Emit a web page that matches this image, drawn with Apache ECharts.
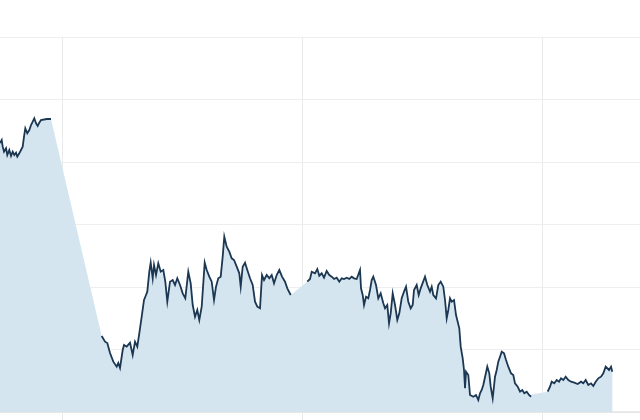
<!DOCTYPE html>
<html>
<head>
<meta charset="utf-8">
<script src="https://cdn.jsdelivr.net/npm/echarts@6/dist/echarts.min.js"></script>
<style>html,body{margin:0;padding:0;background:#fff;}#c{width:640px;height:420px;}</style>
</head>
<body>
<div id="c"></div>
<script>
// Segment 1
var seg1X = [44.38,44.8,45.05,45.38,45.88,46.2,46.7,47.13,47.55,47.95,48.38,48.7,49.2,49.63,50.05,50.38,50.7,51.2,51.7,52.13,52.55,52.95,53.38,53.8,54.2,54.63,55.05,56.05,57.13];
var seg1Y = [43.04,43.52,42.45,41.65,42.19,41.12,41.92,40.96,41.65,41.12,41.49,40.85,41.39,41.92,42.45,44.05,45.39,44.59,45.12,45.92,46.45,46.99,46.19,45.76,46.29,46.72,46.88,46.88,46.88];
// Segment 2
var seg2X = [69.8,70.63,71.2,71.88,72.3,72.7,73.55,73.95,74.38,75.05,75.38,76.05,76.88,77.55,78.13,78.7,79.2,79.8,80.38,80.88,81.2,81.7,82.05,82.55,82.88,83.38,83.95,84.55,85.2,85.7,86.2,86.88,87.55,88.13,88.7,89.38,90.05,90.7,91.45,92.05,92.55,93.13,93.7,94.2,94.8,95.55,96.05,96.7,97.3,97.88,98.38,98.95,99.55,100.05,100.45,101.05,101.7,102.3,102.88,103.55,104.2,104.55,105.05,105.63,106.2,106.88,107.55,108.13,108.7,109.38,109.88,110.38,111.05,111.7,112.3,112.88,113.55,114.2,114.88,115.63,116.2,117.05];
var seg2Y = [12.16,11.25,11.04,9.44,9.65,8.05,7.25,7.84,7.04,9.92,10.72,10.45,11.09,9.12,11.25,10.45,12.59,15.25,17.92,18.72,19.25,22.45,23.89,21.39,23.52,21.92,23.79,22.45,22.72,20.85,17.65,20.85,21.12,20.32,21.39,20.32,18.99,18.19,22.45,20.59,17.12,15.25,16.32,14.72,16.85,23.89,22.72,21.65,20.85,17.92,20.05,21.39,21.65,24.85,28.05,26.45,25.65,24.59,24.32,23.25,22.19,20.05,23.25,23.89,22.72,21.39,20.32,17.65,16.85,16.59,21.92,21.12,21.92,21.39,21.92,20.59,21.92,22.72,21.65,20.85,19.79,18.72];
// Segment 3
var seg3X = [121.2,121.88,122.3,122.7,123.13,123.7,124.2,124.8,125.38,126.05,126.7,127.3,127.88,128.55,129.2,129.8,130.38,131.05,131.7,132.3,132.88,133.55,133.95,134.38,134.63,135.05,135.38,135.88,136.45,136.88,137.3,137.7,138.38,138.95,139.55,140.2,140.63,141.2,141.63,142.05,142.55,143.13,143.7,144.2,144.8,145.38,145.88,146.45,147.05,147.55,147.88,148.55,149.05,149.55,150.05,150.63,151.2,151.88,152.3,152.7,153.38,153.95,154.55,155.2,155.63,156.05,156.45,156.88,157.3,157.88,158.38,158.7,159.2,159.55,160.05,160.38,160.63,160.88,161.45,161.88,162.3,162.7,163.38,163.95,164.38,164.8,165.2,165.63,166.2,166.7,167.05,167.55,168.13,168.55,168.95,169.38,169.8,170.38,170.88,171.45,172.13,172.7,173.13,173.8,174.38,174.95,175.45,176.05,176.63,177.13];
var seg3Y = [20.85,21.28,22.45,22.72,22.19,22.88,21.81,22.19,21.49,22.56,21.92,21.65,21.28,21.49,20.85,21.39,21.28,21.49,21.28,21.65,21.39,21.28,21.49,22.72,19.79,18.72,17.12,18.45,18.19,19.52,21.12,21.65,20.32,18.19,18.99,17.39,16.59,17.12,14.19,15.79,18.99,17.12,14.72,15.79,18.19,19.25,20.05,17.65,16.59,17.12,19.52,20.32,18.72,19.79,19.79,21.65,20.32,19.25,20.05,18.72,18.19,20.32,20.85,20.05,17.92,14.99,16.32,18.19,17.65,17.92,15.52,15.25,13.39,10.45,8.59,6.72,3.79,6.45,5.92,2.72,2.99,2.45,2.72,1.92,2.99,3.52,4.32,4.05,7.25,6.19,4.05,2.19,5.65,6.72,8.05,8.85,9.65,9.39,8.32,7.25,6.19,5.92,4.59,4.05,3.25,3.52,2.99,3.25,2.72,2.45];
// Segment 4
var seg4X = [181.3,181.88,182.3,182.95,183.55,184.13,184.63,185.2,185.8,186.45,187.13,187.95,188.8,189.63,190.2,190.8,191.45,192.13,192.7,193.3,193.95,194.63,195.2,195.8,196.3,196.63,197.13,197.45];
var seg4Y = [3.25,4.05,4.85,4.59,5.12,4.85,5.39,5.12,5.65,5.12,4.85,4.69,4.48,4.85,4.59,5.12,4.32,4.59,4.16,4.85,5.39,5.65,6.19,7.25,7.52,6.72,7.25,6.45];

// visible x window and period gridline ticks
var xWindow = [44.375, 204.375];
var periodTicks = [60, 120, 180];

var segX = [seg1X, seg2X, seg3X, seg4X];
var segY = [seg1Y, seg2Y, seg3Y, seg4Y];

function pairs(xs, ys) { return xs.map(function (x, i) { return [x, ys[i]]; }); }

var allPts = [];
for (var s = 0; s < segX.length; s++) allPts = allPts.concat(pairs(segX[s], segY[s]));

var series = [{
  type: 'line', data: allPts, showSymbol: false, symbol: 'none',
  lineStyle: { width: 0, opacity: 0 },
  areaStyle: { color: '#d5e5ef', opacity: 1 },
  silent: true, z: 1, xAxisIndex: 0, yAxisIndex: 0
}];
for (var k = 0; k < segX.length; k++) {
  series.push({
    type: 'line', data: pairs(segX[k], segY[k]), showSymbol: false, symbol: 'none',
    lineStyle: { color: '#1b3752', width: 1.8, join: 'miter' }, silent: true, z: 3, xAxisIndex: 0, yAxisIndex: 0
  });
}

// second grid only carries the vertical period gridlines
var W = 640;
var pxPerUnit = W / (xWindow[1] - xWindow[0]);
var gLeft = (periodTicks[0] - xWindow[0]) * pxPerUnit;
var gRight = W - (periodTicks[periodTicks.length - 1] - xWindow[0]) * pxPerUnit;

var chart = echarts.init(document.getElementById('c'), null, { renderer: 'canvas' });
chart.setOption({
  animation: false,
  backgroundColor: '#ffffff',
  grid: [
    { left: 0, right: 0, top: 37, bottom: 8, containLabel: false, show: false },
    { left: gLeft, right: gRight, top: 37, bottom: 0, containLabel: false, show: false }
  ],
  xAxis: [{
    gridIndex: 0, type: 'value', min: xWindow[0], max: xWindow[1], position: 'top',
    axisLine: { show: true, lineStyle: { color: '#e3e3e3', width: 1.5 } },
    axisTick: { show: false }, axisLabel: { show: false }, splitLine: { show: false }
  }, {
    gridIndex: 1, type: 'value', min: periodTicks[0], max: periodTicks[periodTicks.length - 1], interval: 60,
    axisLine: { show: false }, axisTick: { show: false }, axisLabel: { show: false },
    splitLine: { show: true, lineStyle: { color: '#ebebeb', width: 1 } }
  }],
  yAxis: [{
    gridIndex: 0, type: 'value', min: 0, max: 60, interval: 10,
    axisLine: { show: false }, axisTick: { show: false }, axisLabel: { show: false },
    splitLine: { show: true, lineStyle: { color: '#eeeeee', width: 1 } }
  }, {
    gridIndex: 1, type: 'value', min: 0, max: 1,
    axisLine: { show: false }, axisTick: { show: false }, axisLabel: { show: false },
    splitLine: { show: false }
  }],
  series: series
});
</script>
</body>
</html>
